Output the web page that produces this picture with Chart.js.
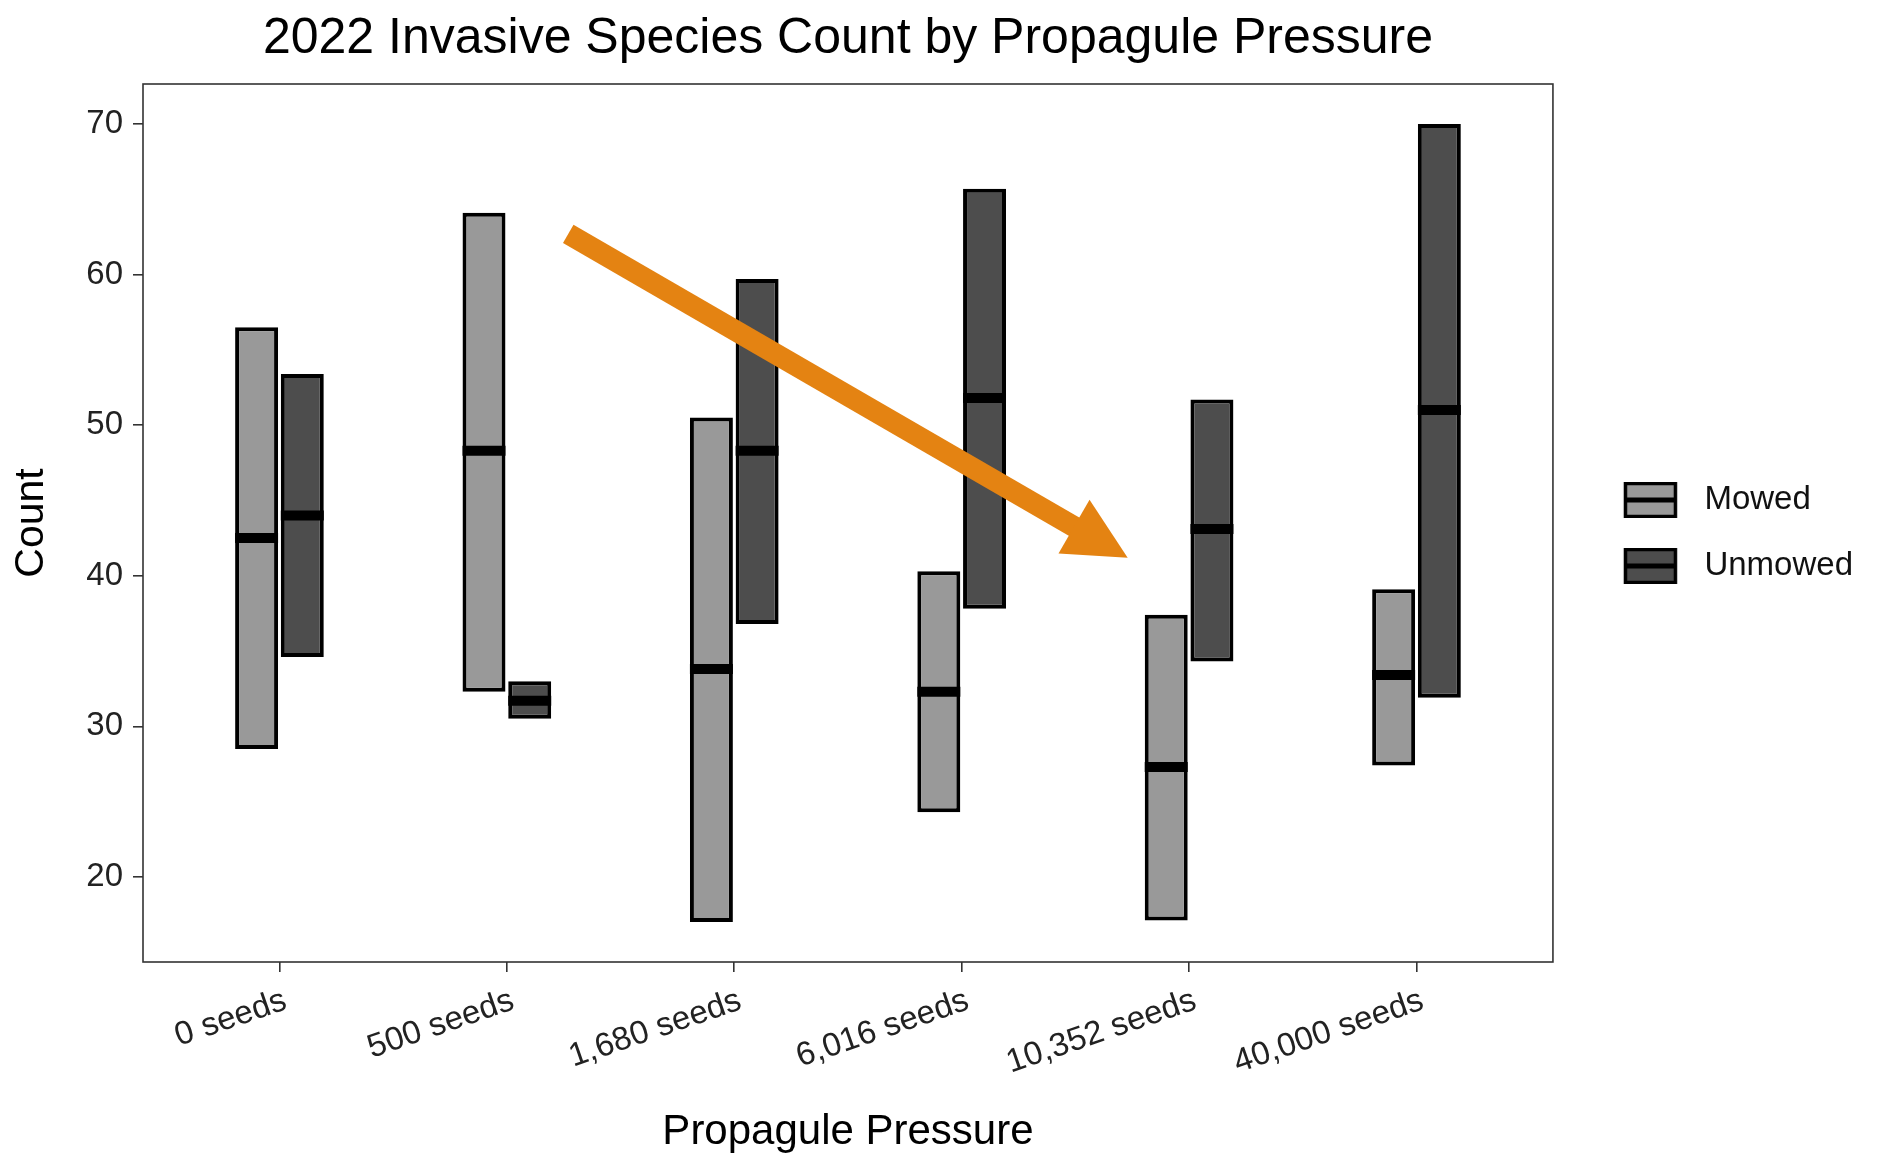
<!DOCTYPE html>
<html>
<head>
<meta charset="utf-8">
<title>2022 Invasive Species Count by Propagule Pressure</title>
<script src="https://cdn.jsdelivr.net/npm/chart.js@4.4.1/dist/chart.umd.min.js"></script>
<style>
  html, body { margin: 0; padding: 0; background: #fff; }
  #wrap { width: 1895px; height: 1167px; }
</style>
</head>
<body>
<div id="wrap"><canvas id="chart"></canvas></div>
<script>
// Categories and values
const categories = ['0 seeds', '500 seeds', '1,680 seeds', '6,016 seeds', '10,352 seeds', '40,000 seeds'];

const mowedMin = [28.5, 32.3, 17.0, 24.3, 17.1, 27.4];
const mowedMax = [56.5, 64.1, 50.5, 40.3, 37.4, 39.1];
const mowedMedian = [42.5, 48.3, 33.8, 32.3, 27.3, 33.4];

const unmowedMin = [34.6, 30.5, 36.8, 37.8, 34.3, 31.9];
const unmowedMax = [53.4, 33.0, 59.7, 65.7, 51.7, 70.0];
const unmowedMedian = [44.0, 31.7, 48.3, 51.8, 43.1, 51.0];

const yTicks = [20, 30, 40, 50, 60, 70];
const yRange = [14.35, 72.65];
const xRange = [0.4, 6.6];

// Orange arrow, in axis units (category index, count)
const arrowFrom = [2.27, 62.7];
const arrowTo = [4.73, 41.2];

Chart.defaults.font.family = "'Liberation Sans', Arial, sans-serif";

// Legend key: box with a middle line, like the crossbar
function legendIcon(fill) {
    const c = document.createElement('canvas');
    c.width = 102;
    c.height = 36;
    const g = c.getContext('2d');
    g.fillStyle = fill;
    g.fillRect(39.5, 1.5, 50, 33);
    g.lineWidth = 3.5;
    g.strokeStyle = '#000';
    g.strokeRect(39.5, 1.5, 50, 33);
    g.lineWidth = 5;
    g.beginPath();
    g.moveTo(39.5, 18);
    g.lineTo(89.5, 18);
    g.stroke();
    return c;
}

function rangeData(lo, hi) {
    return categories.map((c, i) => ({ x: i + 1, y: [lo[i], hi[i]] }));
}

// Medians, panel border and the arrow
const extrasPlugin = {
    id: 'extras',
    afterDatasetsDraw(chart) {
        const { ctx, chartArea: a, scales: { y } } = chart;
        [mowedMedian, unmowedMedian].forEach((med, i) => {
            chart.getDatasetMeta(i).data.forEach((bar, j) => {
                const py = y.getPixelForValue(med[j]);
                ctx.save();
                ctx.strokeStyle = '#000';
                ctx.lineWidth = 10;
                ctx.beginPath();
                ctx.moveTo(bar.x - bar.width / 2, py);
                ctx.lineTo(bar.x + bar.width / 2, py);
                ctx.stroke();
                ctx.restore();
            });
        });
        ctx.save();
        ctx.strokeStyle = '#333';
        ctx.lineWidth = 1.6;
        ctx.strokeRect(a.left, a.top, a.width, a.height);
        ctx.restore();
    },
    afterDraw(chart) {
        const { ctx, scales: { x, y } } = chart;
        const x0 = x.getPixelForValue(arrowFrom[0]);
        const y0 = y.getPixelForValue(arrowFrom[1]);
        const x1 = x.getPixelForValue(arrowTo[0]);
        const y1 = y.getPixelForValue(arrowTo[1]);
        const ang = Math.atan2(y1 - y0, x1 - x0);
        const cos = Math.cos(ang);
        const sin = Math.sin(ang);
        const headLen = 62;
        const headHalf = 31;
        const bx = x1 - headLen * cos;
        const by = y1 - headLen * sin;
        ctx.save();
        ctx.strokeStyle = '#E48312';
        ctx.fillStyle = '#E48312';
        ctx.lineWidth = 21;
        ctx.lineCap = 'butt';
        ctx.beginPath();
        ctx.moveTo(x0, y0);
        ctx.lineTo(bx + 4 * cos, by + 4 * sin);
        ctx.stroke();
        ctx.beginPath();
        ctx.moveTo(x1, y1);
        ctx.lineTo(bx + headHalf * sin, by - headHalf * cos);
        ctx.lineTo(bx - headHalf * sin, by + headHalf * cos);
        ctx.closePath();
        ctx.fill();
        ctx.restore();
    }
};

const ctx = document.getElementById('chart').getContext('2d');
const chart = new Chart(ctx, {
    type: 'bar',
    data: {
        datasets: [{
            label: 'Mowed',
            data: rangeData(mowedMin, mowedMax),
            backgroundColor: '#999999',
            borderColor: '#000000',
            borderWidth: 4,
            borderSkipped: false
        }, {
            label: 'Unmowed',
            data: rangeData(unmowedMin, unmowedMax),
            backgroundColor: '#4D4D4D',
            borderColor: '#000000',
            borderWidth: 4,
            borderSkipped: false
        }]
    },
    options: {
        responsive: true,
        maintainAspectRatio: false,
        animation: false,
        categoryPercentage: 0.402,
        barPercentage: 0.94,
        layout: { padding: { left: 0, right: 32, top: 0, bottom: 0 } },
        plugins: {
            title: {
                display: true,
                text: '2022 Invasive Species Count by Propagule Pressure',
                fullSize: false,
                color: '#000',
                font: { size: 50, weight: 'normal' },
                padding: { top: 9, bottom: 15 }
            },
            legend: {
                position: 'right',
                fullSize: false,
                align: 'center',
                title: { display: true, text: ' ', font: { size: 10 }, padding: { top: 8, bottom: 0 } },
                labels: {
                    usePointStyle: true,
                    pointStyleWidth: 102,
                    padding: 33,
                    color: '#111',
                    font: { size: 33 },
                    generateLabels: (ch) => ch.data.datasets.map((ds, i) => ({
                        text: ds.label,
                        pointStyle: legendIcon(ds.backgroundColor),
                        datasetIndex: i,
                        fontColor: '#111',
                        lineWidth: 0,
                        hidden: false
                    }))
                }
            },
            tooltip: { enabled: false }
        },
        scales: {
            x: {
                type: 'linear',
                min: xRange[0],
                max: xRange[1],
                offset: false,
                afterBuildTicks: (s) => { s.ticks = categories.map((c, i) => ({ value: i + 1 })); },
                afterFit: (s) => { s.height = 205; },
                grid: { offset: false, drawOnChartArea: false, drawTicks: true, tickLength: 10, color: '#333', lineWidth: 1.6 },
                border: { display: false },
                ticks: {
                    autoSkip: false,
                    minRotation: 19,
                    maxRotation: 19,
                    padding: 9,
                    labelOffset: 6,
                    color: '#222',
                    font: { size: 33 },
                    callback: (v) => categories[v - 1]
                },
                title: {
                    display: true,
                    text: 'Propagule Pressure',
                    color: '#000',
                    font: { size: 42 },
                    padding: { top: 0, bottom: 9 }
                }
            },
            y: {
                type: 'linear',
                min: yRange[0],
                max: yRange[1],
                beginAtZero: false,
                stacked: false,
                afterBuildTicks: (s) => { s.ticks = yTicks.map(v => ({ value: v })); },
                afterFit: (s) => { s.width = 143; },
                grid: { drawOnChartArea: false, drawTicks: true, tickLength: 10, color: '#333', lineWidth: 1.6 },
                border: { display: false },
                ticks: { padding: 10, color: '#222', font: { size: 33 } },
                title: {
                    display: true,
                    text: 'Count',
                    color: '#000',
                    font: { size: 41 },
                    padding: { top: 7, bottom: 0 }
                }
            }
        }
    },
    plugins: [extrasPlugin]
});
</script>
</body>
</html>
